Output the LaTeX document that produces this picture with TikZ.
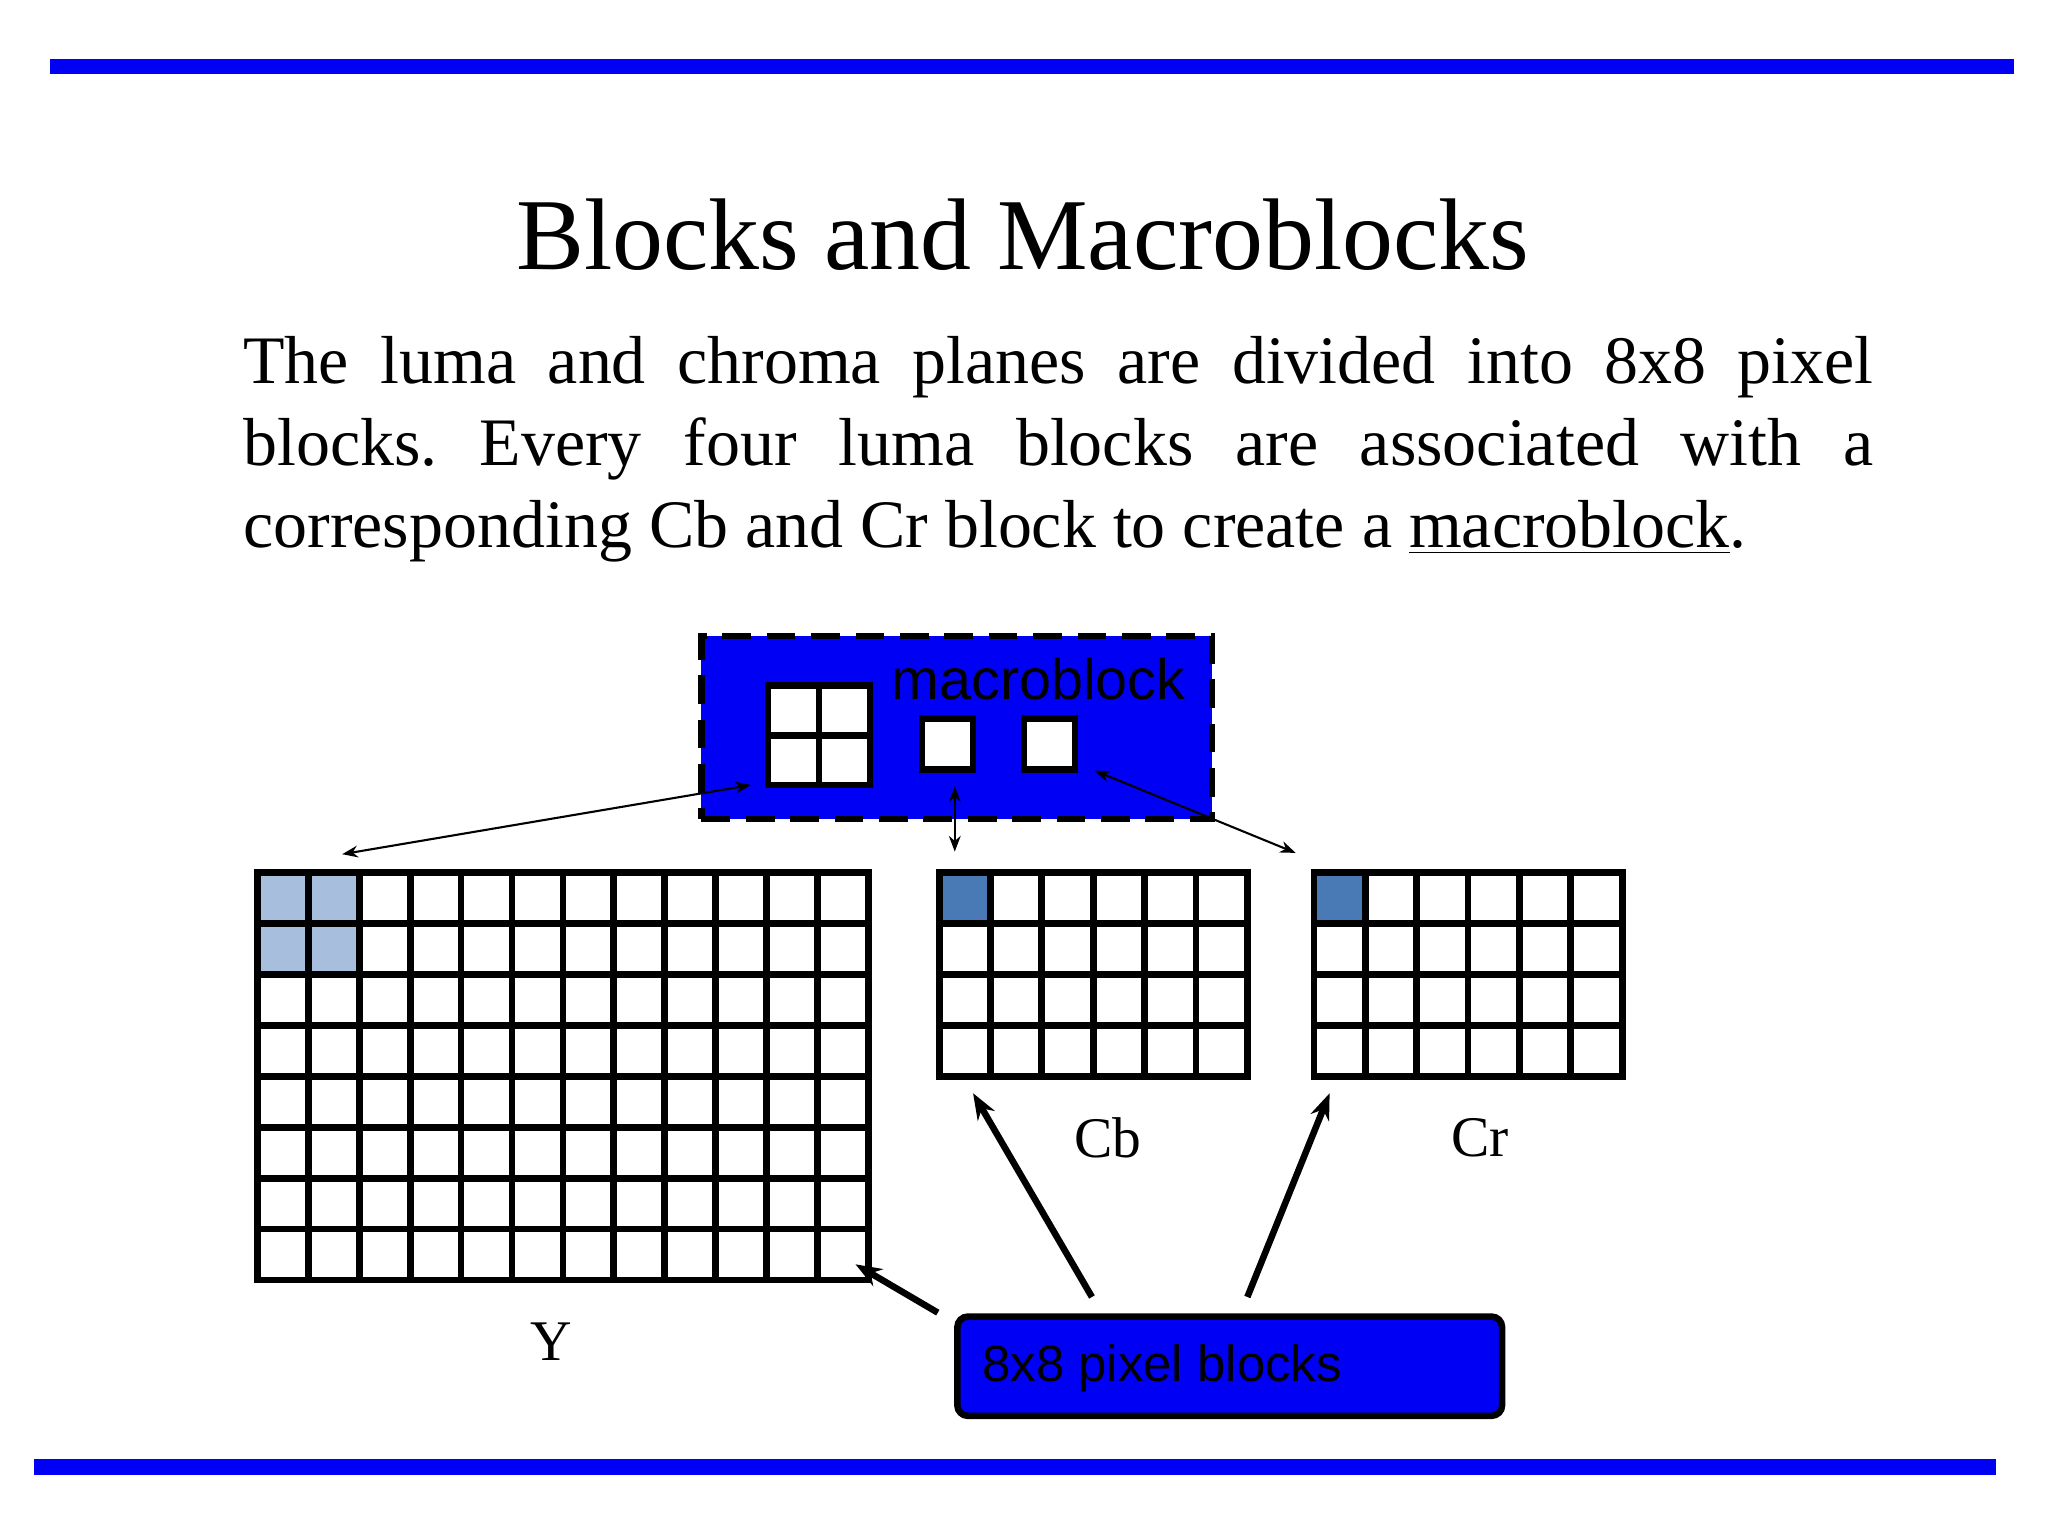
\documentclass[tikz,border=0pt]{standalone}
\usepackage{fontspec}
\setmainfont{Liberation Serif}
\newfontfamily\sansf{Liberation Sans}
\usetikzlibrary{arrows.meta}
\definecolor{pblue}{RGB}{0,0,245}
\definecolor{lightb}{RGB}{168,190,221}
\definecolor{darkb}{RGB}{74,122,181}
\frenchspacing
\begin{document}
\begin{tikzpicture}[x=0.5pt,y=-0.5pt,
  gridline/.style={line width=2.6pt},
  thinarr/.style={{Stealth[length=6pt]}-{Stealth[length=6pt]},line width=0.8pt},
  thickarr/.style={-{Stealth[length=10pt]},line width=2.5pt},
  lbl/.style={font=\fontsize{22}{26}\selectfont,anchor=center}]
\useasboundingbox (0,0) rectangle (1568,1176);
\fill[pblue] (38,45) rectangle (1542,57);
\fill[pblue] (26,1117) rectangle (1528,1129);
\node (title) at (783,180) {\fontsize{39}{46}\selectfont Blocks and Macroblocks};
\node[anchor=north west,inner sep=0pt,text width=624pt,align=justify] (para) at (186,257)
 {\fontsize{26}{31.5}\selectfont The luma and chroma planes are divided into 8x8 pixel\linebreak blocks. Every four luma blocks are associated with a\linebreak corresponding Cb and Cr block to create a \underline{macroblock}.\par};
% macroblock box
\node[draw,fill=pblue,dashed,dash pattern=on 11pt off 6pt,line width=2.5pt,minimum width=195.5pt,minimum height=70pt,inner sep=0pt] (mb) at (732.5,557) {};
\node (mbt) at (795,520) {\sansf\fontsize{22}{26}\selectfont macroblock};
\node[draw,fill=white,line width=2.5pt,minimum width=39pt,minimum height=38pt,inner sep=0pt] (quad) at (627,563) {};
\draw[gridline] (quad.north) -- (quad.south) (quad.west) -- (quad.east);
\node[draw,fill=white,line width=2.5pt,minimum width=19.5pt,minimum height=19.5pt,inner sep=0pt] (cbs) at (725.5,569.5) {};
\node[draw,fill=white,line width=2.5pt,minimum width=19.5pt,minimum height=19.5pt,inner sep=0pt] (crs) at (803.5,569.5) {};
% Y grid
\fill[lightb] (197,668) rectangle (275,746);
\node[draw,line width=2.6pt,minimum width=234pt,minimum height=156pt,inner sep=0pt] (Y) at (431,824) {};
\foreach \i in {1,...,11} \draw[gridline] (197+39*\i,668) -- (197+39*\i,980);
\foreach \j in {1,...,7} \draw[gridline] (197,668+39*\j) -- (665,668+39*\j);
% Cb grid
\fill[darkb] (719,668) rectangle (758.3,707);
\node[draw,line width=2.6pt,minimum width=118pt,minimum height=78pt,inner sep=0pt] (Cb) at (837,746) {};
\foreach \i in {1,...,5} \draw[gridline] (719+39.33*\i,668) -- (719+39.33*\i,824);
\foreach \j in {1,...,3} \draw[gridline] (719,668+39*\j) -- (955,668+39*\j);
% Cr grid
\fill[darkb] (1006,668) rectangle (1045.3,707);
\node[draw,line width=2.6pt,minimum width=118pt,minimum height=78pt,inner sep=0pt] (Cr) at (1124,746) {};
\foreach \i in {1,...,5} \draw[gridline] (1006+39.33*\i,668) -- (1006+39.33*\i,824);
\foreach \j in {1,...,3} \draw[gridline] (1006,668+39*\j) -- (1242,668+39*\j);
% labels
\node[lbl] (ly) at (422,1027) {Y};
\node[lbl] (lcb) at (848,871) {Cb};
\node[lbl] (lcr) at (1133,871) {Cr};
% pixel blocks box
\node[draw,fill=pblue,rounded corners=4pt,line width=2.5pt,minimum width=208.5pt,minimum height=38pt,inner sep=0pt] (pb) at (941.5,1046) {};
\node[anchor=west] (pbt) at (745,1048) {\sansf\fontsize{19.5}{23}\selectfont 8x8 pixel blocks};
% connectors
\coordinate (a1) at (262,654); \coordinate (a2) at (575,601);
\coordinate (b1) at (731,602); \coordinate (b2) at (731,652);
\coordinate (c1) at (838,590); \coordinate (c2) at (992,653);
\draw[thinarr] (a1) -- (a2);
\draw[thinarr] (b1) -- (b2);
\draw[thinarr] (c1) -- (c2);
\coordinate (p1) at (718,1005); \coordinate (q1) at (655,968);
\coordinate (p2) at (836,993); \coordinate (q2) at (745,837);
\coordinate (p3) at (955,993); \coordinate (q3) at (1018,837);
\draw[thickarr] (p1) -- (q1);
\draw[thickarr] (p2) -- (q2);
\draw[thickarr] (p3) -- (q3);
\end{tikzpicture}
\end{document}
